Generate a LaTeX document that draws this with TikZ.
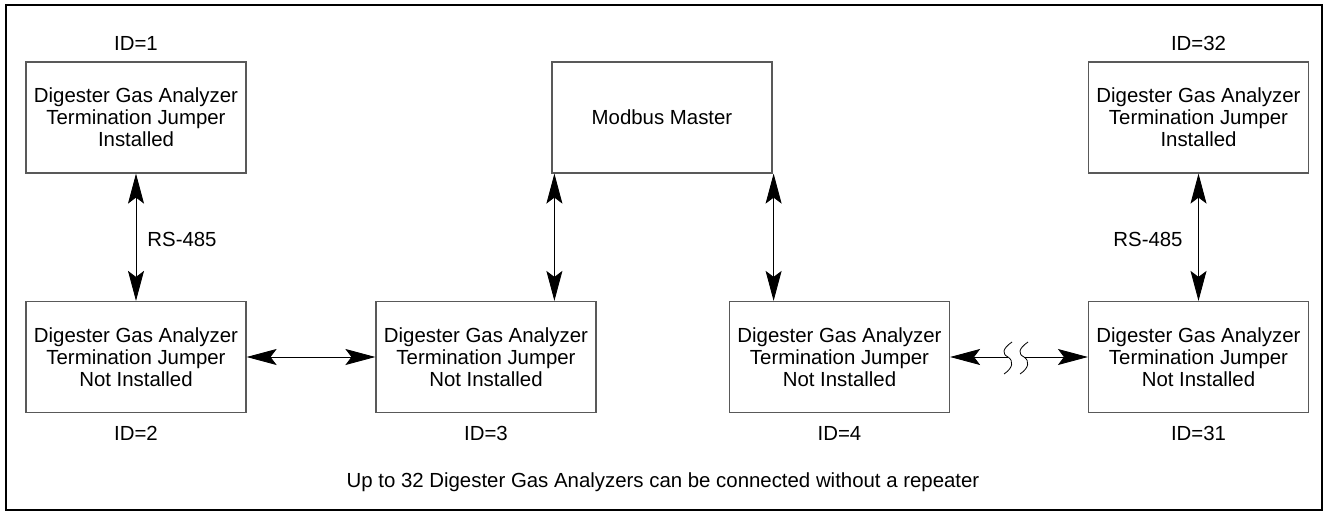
\documentclass[tikz,border=0pt]{standalone}
\usepackage{fontspec}
\setmainfont{Liberation Sans}
\usetikzlibrary{arrows.meta}
\begin{document}
\begin{tikzpicture}[x=1pt,y=-1pt,
  unit/.style={draw=black!65, line width=1.2pt, minimum width=220pt, minimum height=111pt,
     inner sep=0pt, align=center, font=\fontsize{20.4}{22}\selectfont},
  lbl/.style={inner sep=0pt, font=\fontsize{20.4}{22}\selectfont},
  link/.style={line width=0.9pt, black},
  tip/.style={-{Stealth[length=30pt,width=16pt,inset=6pt]}},
  both/.style={{Stealth[length=30pt,width=16pt,inset=6pt]}-{Stealth[length=30pt,width=16pt,inset=6pt]}},
  brk/.style={line width=0.8pt, black}]
\useasboundingbox (0,0) rectangle (1327,513);
\draw[line width=2pt] (6,5) rectangle (1322,510);
% top row
\node[unit] (d1) at (136,117.5) {Digester Gas Analyzer\\Termination Jumper\\Installed};
\node[unit] (mm) at (662,117.5) {Modbus Master};
\node[unit] (d32) at (1198.5,117.5) {Digester Gas Analyzer\\Termination Jumper\\Installed};
% bottom row
\node[unit] (d2) at (136,357) {Digester Gas Analyzer\\Termination Jumper\\Not Installed};
\node[unit] (d3) at (486,357) {Digester Gas Analyzer\\Termination Jumper\\Not Installed};
\node[unit] (d4) at (839.5,357) {Digester Gas Analyzer\\Termination Jumper\\Not Installed};
\node[unit] (d31) at (1198.5,357) {Digester Gas Analyzer\\Termination Jumper\\Not Installed};
% ID labels
\node[lbl] (id1) at (136,43) {ID=1};
\node[lbl] (id32) at (1198.5,43) {ID=32};
\node[lbl] (id2) at (136,433) {ID=2};
\node[lbl] (id3) at (486,433) {ID=3};
\node[lbl] (id4) at (839.5,433) {ID=4};
\node[lbl] (id31) at (1198.5,433) {ID=31};
\node[lbl] (rs1) at (182,239) {RS-485};
\node[lbl] (rs2) at (1148,239) {RS-485};
\node[lbl] (foot) at (663,482) {Up to 32 Digester Gas Analyzers can be connected without a repeater};
% vertical links
\draw[link,both] (d1.south) -- (d2.north);
\draw[link,both] (d32.south) -- (d31.north);
\coordinate (ml) at ([xshift=3pt]mm.south west);
\coordinate (mr) at ([xshift=1pt]mm.south east);
\draw[link,both] (ml) -- (ml |- d3.north);
\draw[link,both] (mr) -- (mr |- d4.north);
% horizontal links
\draw[link,both] (d2.east) -- (d3.west);
\coordinate (b1) at (1008,357);
\coordinate (b2) at (1024,357);
\draw[link,{Stealth[length=30pt,width=16pt,inset=6pt]}-] (d4.east) -- (b1);
\draw[link,tip] (b2) -- (d31.west);
\draw[brk] (1012,342) .. controls (1002,349) and (1002,354) .. (1008,357) .. controls (1014,361) and (1013,368) .. (1004,374);
\draw[brk] (1028,342) .. controls (1018,349) and (1018,354) .. (1024,357) .. controls (1030,361) and (1029,368) .. (1020,374);
\end{tikzpicture}
\end{document}
